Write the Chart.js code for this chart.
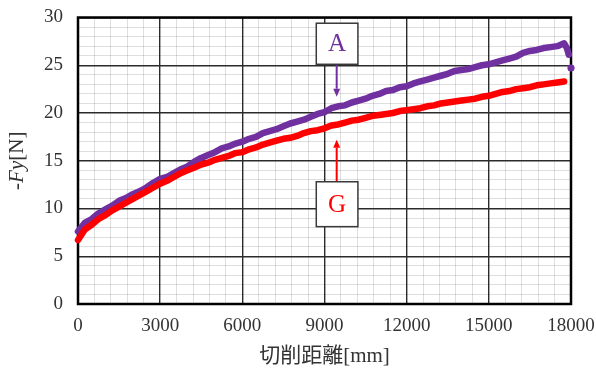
<!DOCTYPE html>
<html>
<head>
<meta charset="utf-8">
<script src="https://cdn.jsdelivr.net/npm/chart.js@4.4.1/dist/chart.umd.min.js"></script>
<style>
  html, body { margin: 0; padding: 0; background: #fff; }
  #wrap { width: 596px; height: 379px; position: relative; }
</style>
</head>
<body>
<div id="wrap"><canvas id="c"></canvas></div>
<script>
// Cutting distance [mm] for each sample of tool A
const distA = [0, 250, 500, 750, 1000, 1250, 1500, 1750, 2000, 2250, 2500, 2750,
  3000, 3250, 3500, 3750, 4000, 4250, 4500, 4750, 5000, 5250, 5500, 5750,
  6000, 6250, 6500, 6750, 7000, 7250, 7500, 7750, 8000, 8250, 8500, 8750,
  9000, 9250, 9500, 9750, 10000, 10250, 10500, 10750, 11000, 11250, 11500, 11750,
  12000, 12250, 12500, 12750, 13000, 13250, 13500, 13750, 14000, 14250, 14500, 14750,
  15000, 15250, 15500, 15750, 16000, 16250, 16500, 16750, 17000, 17250, 17500, 17750,
  17850, 17920, 17960, 18000];
// -Fy [N] of tool A (null = no sample, leaves a gap before the last reading)
const forceA = [7.6, 8.5, 8.9, 9.5, 9.9, 10.3, 10.8, 11.1, 11.5, 11.8, 12.2, 12.7,
  13.1, 13.3, 13.7, 14.1, 14.4, 14.9, 15.3, 15.6, 15.9, 16.3, 16.5, 16.8,
  17.0, 17.3, 17.5, 17.9, 18.1, 18.3, 18.6, 18.9, 19.1, 19.3, 19.6, 19.9,
  20.1, 20.5, 20.7, 20.8, 21.1, 21.3, 21.5, 21.8, 22.0, 22.3, 22.4, 22.7,
  22.8, 23.1, 23.3, 23.5, 23.7, 23.9, 24.1, 24.4, 24.5, 24.6, 24.8, 25.0,
  25.1, 25.3, 25.5, 25.7, 25.9, 26.3, 26.5, 26.6, 26.8, 26.9, 27.0, 27.3,
  26.8, 26.1, null, 24.7];

// Cutting distance [mm] for each sample of tool G
const distG = [0, 250, 500, 750, 1000, 1250, 1500, 1750, 2000, 2250, 2500, 2750,
  3000, 3250, 3500, 3750, 4000, 4250, 4500, 4750, 5000, 5250, 5500, 5750,
  6000, 6250, 6500, 6750, 7000, 7250, 7500, 7750, 8000, 8250, 8500, 8750,
  9000, 9250, 9500, 9750, 10000, 10250, 10500, 10750, 11000, 11250, 11500, 11750,
  12000, 12250, 12500, 12750, 13000, 13250, 13500, 13750, 14000, 14250, 14500, 14750,
  15000, 15250, 15500, 15750, 16000, 16250, 16500, 16750, 17000, 17250, 17500, 17750];
// -Fy [N] of tool G
const forceG = [6.7, 7.8, 8.3, 8.9, 9.3, 9.8, 10.2, 10.6, 11.0, 11.4, 11.8, 12.2,
  12.6, 12.9, 13.3, 13.7, 14.0, 14.3, 14.6, 14.8, 15.1, 15.3, 15.5, 15.8,
  15.9, 16.2, 16.4, 16.7, 16.9, 17.1, 17.3, 17.4, 17.6, 17.9, 18.1, 18.2,
  18.4, 18.7, 18.8, 19.0, 19.2, 19.3, 19.5, 19.7, 19.8, 19.9, 20.0, 20.2,
  20.3, 20.4, 20.5, 20.7, 20.8, 21.0, 21.1, 21.2, 21.3, 21.4, 21.5, 21.7,
  21.8, 22.0, 22.2, 22.3, 22.5, 22.6, 22.7, 22.9, 23.0, 23.1, 23.2, 23.3];

// Axis ranges and labelled tick steps
const xRange = [0, 18000];
const xMajorStep = 3000;
const xMinorStep = 600;
const yRange = [0, 30];
const yMajorStep = 5;
const yMinorStep = 1;

const seriesNames = ['A', 'G'];

const PURPLE = '#7030A0';
const RED = '#FF0000';
const SERIF = "'Liberation Serif', 'Times New Roman', serif";
const MAJOR_GRID = '#2b2b2b';
const MINOR_GRID = 'rgba(0, 0, 0, 0.13)';

// Callout boxes with arrows pointing at each curve (in data units)
const callouts = [
  { text: 'A', color: PURPLE, x0: 8700, x1: 10220, yTop: 29.4, yBottom: 25.1, arrowX: 9445, arrowTip: 21.7 },
  { text: 'G', color: RED,    x0: 8700, x1: 10220, yTop: 12.8, yBottom: 8.1,  arrowX: 9445, arrowTip: 17.2 }
];

function toPoints(xs, ys) {
  return xs.map((x, i) => ({ x: x, y: ys[i] }));
}

// Black frame around the plot area
const framePlugin = {
  id: 'frame',
  beforeDatasetsDraw(chart) {
    const { ctx, chartArea: a } = chart;
    ctx.save();
    ctx.strokeStyle = '#000';
    ctx.lineWidth = 2.5;
    ctx.strokeRect(a.left, a.top, a.right - a.left, a.bottom - a.top);
    ctx.restore();
  }
};

// Rotated y title "-Fy[N]" with italic Fy
const yTitlePlugin = {
  id: 'yTitle',
  afterDraw(chart) {
    const { ctx, chartArea: a } = chart;
    const parts = [
      { t: '-', font: '21px ' + SERIF },
      { t: 'Fy', font: 'italic 21px ' + SERIF },
      { t: '[N]', font: '21px ' + SERIF }
    ];
    ctx.save();
    let total = 0;
    parts.forEach(p => { ctx.font = p.font; p.w = ctx.measureText(p.t).width; total += p.w; });
    ctx.translate(17, (a.top + a.bottom) / 2);
    ctx.rotate(-Math.PI / 2);
    ctx.fillStyle = '#333';
    ctx.textBaseline = 'middle';
    ctx.textAlign = 'left';
    let x = -total / 2;
    parts.forEach(p => { ctx.font = p.font; ctx.fillText(p.t, x, 0); x += p.w; });
    ctx.restore();
  }
};

// Labelled boxes and arrows
const calloutPlugin = {
  id: 'callouts',
  afterDatasetsDraw(chart) {
    const { ctx, scales: { x, y } } = chart;
    ctx.save();
    callouts.forEach(c => {
      const l = x.getPixelForValue(c.x0), r = x.getPixelForValue(c.x1);
      const t = y.getPixelForValue(c.yTop), b = y.getPixelForValue(c.yBottom);
      const ax = x.getPixelForValue(c.arrowX);
      const tip = y.getPixelForValue(c.arrowTip);
      const start = tip > b ? b : t;
      const dir = tip > start ? 1 : -1;
      const head = 8;
      // arrow shaft
      ctx.strokeStyle = c.color;
      ctx.lineWidth = 2;
      ctx.beginPath();
      ctx.moveTo(ax, start);
      ctx.lineTo(ax, tip - dir * head);
      ctx.stroke();
      // arrow head
      ctx.fillStyle = c.color;
      ctx.beginPath();
      ctx.moveTo(ax, tip);
      ctx.lineTo(ax - 3.5, tip - dir * head);
      ctx.lineTo(ax + 3.5, tip - dir * head);
      ctx.closePath();
      ctx.fill();
      // box
      ctx.fillStyle = '#fff';
      ctx.fillRect(l, t, r - l, b - t);
      ctx.strokeStyle = '#3a3a3a';
      ctx.lineWidth = 1.5;
      ctx.strokeRect(l, t, r - l, b - t);
      // letter
      ctx.fillStyle = c.color;
      ctx.font = '25px ' + SERIF;
      ctx.textAlign = 'center';
      ctx.textBaseline = 'middle';
      ctx.fillText(c.text, (l + r) / 2, (t + b) / 2 + 1);
    });
    ctx.restore();
  }
};

const lastA = distA.length - 1;

const gridColor = step => ctx => (ctx.tick && ctx.tick.value % step === 0 ? MAJOR_GRID : MINOR_GRID);
const gridWidth = step => ctx => (ctx.tick && ctx.tick.value % step === 0 ? 1.4 : 1);

new Chart(document.getElementById('c'), {
  type: 'line',
  data: {
    datasets: [
      {
        label: seriesNames[1],
        data: toPoints(distG, forceG),
        borderColor: RED,
        backgroundColor: RED,
        borderWidth: 6.5,
        pointRadius: 0,
        tension: 0,
        borderJoinStyle: 'round',
        borderCapStyle: 'round',
        clip: 8
      },
      {
        label: seriesNames[0],
        data: toPoints(distA, forceA),
        borderColor: PURPLE,
        backgroundColor: PURPLE,
        borderWidth: 6.5,
        pointRadius: distA.map((_, i) => (i === lastA ? 3.5 : 0)),
        pointBorderWidth: 0,
        tension: 0,
        spanGaps: false,
        borderJoinStyle: 'round',
        borderCapStyle: 'round',
        clip: 8
      }
    ]
  },
  options: {
    responsive: true,
    maintainAspectRatio: false,
    animation: false,
    devicePixelRatio: 1,
    layout: { padding: { top: 17.5, right: 25, left: 0, bottom: 0 } },
    plugins: {
      legend: { display: false },
      tooltip: { enabled: false }
    },
    scales: {
      x: {
        type: 'linear',
        min: xRange[0],
        max: xRange[1],
        afterFit(scale) { scale.height = 75; },
        ticks: {
          stepSize: xMinorStep,
          autoSkip: false,
          maxRotation: 0,
          minRotation: 0,
          padding: 0,
          color: '#333',
          font: { family: SERIF, size: 19 },
          callback: v => (v % xMajorStep === 0 ? String(v) : '')
        },
        grid: {
          drawTicks: true,
          tickLength: 11,
          tickColor: 'rgba(0,0,0,0)',
          color: gridColor(xMajorStep),
          lineWidth: gridWidth(xMajorStep)
        },
        border: { display: false },
        title: {
          display: true,
          text: '切削距離[mm]',
          color: '#333',
          font: { family: "'Liberation Serif', 'Noto Sans CJK JP', serif", size: 21 },
          padding: { top: 0, bottom: 10 }
        }
      },
      y: {
        type: 'linear',
        min: yRange[0],
        max: yRange[1],
        afterFit(scale) { scale.width = 78; },
        ticks: {
          stepSize: yMinorStep,
          autoSkip: false,
          padding: 0,
          color: '#333',
          font: { family: SERIF, size: 19 },
          callback: v => (v % yMajorStep === 0 ? String(v) : '')
        },
        grid: {
          drawTicks: true,
          tickLength: 15,
          tickColor: 'rgba(0,0,0,0)',
          color: gridColor(yMajorStep),
          lineWidth: gridWidth(yMajorStep)
        },
        border: { display: false }
      }
    }
  },
  plugins: [framePlugin, yTitlePlugin, calloutPlugin]
});
</script>
</body>
</html>
